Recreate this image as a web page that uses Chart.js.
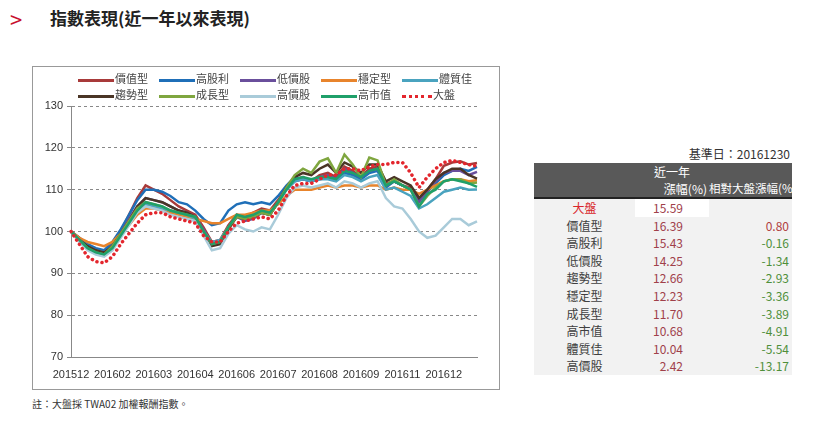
<!DOCTYPE html>
<html><head><meta charset="utf-8">
<script src="https://cdn.jsdelivr.net/npm/chart.js@4"></script>
<style>
body{margin:0;width:820px;height:422px;background:#fff;font-family:"Noto Sans CJK TC","Noto Sans",sans-serif;position:relative;overflow:hidden}
#title{position:absolute;left:50px;top:5px;font-size:17px;font-weight:bold;color:#222}
#chev{position:absolute;left:10px;top:2px;font-size:22px;color:#c8102e}
#box{position:absolute;left:32px;top:66px;width:466px;height:322px;border:1px solid #999}
#cv{position:absolute;left:0;top:0}
#legend{position:absolute;left:45px;top:4px;width:420px;font-size:11px;color:#444}
.li{position:absolute;white-space:nowrap;line-height:14px}
.sw{display:inline-block;width:36px;height:3px;vertical-align:middle;margin-right:1px}
#note{position:absolute;left:32px;top:396px;font-size:10px;color:#333}
#base{position:absolute;left:600px;top:145px;width:190px;text-align:right;font-size:12px;color:#333}
table{position:absolute;left:534px;top:163px;width:258px;border-collapse:collapse;font-size:12px;table-layout:fixed;white-space:nowrap}
th{background:#595959;color:#fff;font-weight:normal;padding:0;height:17px;line-height:17px}
td{background:#f2f2f2;height:17.6px;padding:0;line-height:17.6px}
td.n{text-align:center;color:#404040}
td.v{text-align:right;color:#a0404a;padding-right:26px}
td.r{text-align:right;padding-right:3px}
</style></head><body>
<div id="chev">&gt;</div>
<div id="title">指數表現(近一年以來表現)</div>
<div id="box"><canvas id="cv" width="466" height="322"></canvas><div id="legend"></div></div>
<div id="note">註：大盤採 TWA02 加權報酬指數。</div>
<div id="base">基準日：20161230</div>
<table id="tb"><colgroup><col style="width:101px"><col style="width:74px"><col style="width:83px"></colgroup></table>
<script>
const tickLabels=['201512','201602','201603','201604','201606','201607','201608','201609','201611','201612'];
const value=[100,98.5,96.5,95.5,95,97,100,104,108,111,110,109,107.5,106,105,104,101,97.5,98,101.5,104,103.5,104.5,105.5,105,107.5,110.5,112.5,113,112,113.5,114,113,115.5,114.5,113,115,115.5,111.5,112,111,110.5,108,110,112.5,115.7,116.5,116.8,116,116.39];
const highDiv=[100,98.5,97,96,95.5,97.5,100.5,104,107.5,110,110,109.5,108.5,107,106.5,105,103,101.5,102,105,106.5,107,106.5,107,106.5,108.5,111,113,112.5,112,112.5,113,112.5,114,113.5,112.5,114,114.5,110.5,112,111,110,107.5,109.5,111.5,113.5,114.5,115,114.5,115.43];
const lowPrice=[100,98,96,95,94.5,96.5,99.5,103,106,108,107.5,107,106,105,104.5,103.5,100.5,97,97.5,101,103.5,102.5,103,104.5,104,107,110,112,112.5,112,113,113.5,112.5,115,114,113,114.5,115,111,112,111,110,107,109.5,112,114,114.5,114.5,113.5,114.25];
const stable=[100,98.5,97.5,97,96.5,97.5,99.5,101.5,104,105.5,105.5,105,104.5,104,103.5,103,102.5,102,102,103,104,104,104.5,105,105,106.5,108.5,110,110,110,110.5,111,110.5,111,111,110.5,111,111,110,110.5,110,110,109,110,111,112,112.5,112.5,112,112.23];
const quality=[100,98,96.5,95.5,95,96.5,99,102,105,106.5,106,105.5,105,104.5,104,103,100,97.5,98,101,103.5,103,103.5,104.5,104,107,110,112,112.5,112,112.5,112.5,112,113.5,113,112,113,113.5,110,110.5,109.5,108.5,105.5,106.5,108,109.5,110,110.5,110,110.04];
const trend=[100,98,96.5,95.5,95,96.5,99.5,102.5,106,108,107.5,107,106,105,104.5,103.5,100,96.5,97,100.5,103.5,103,103.5,104.5,104,107,110.5,113,114,113.5,115,116,114,116.5,115.5,114,116,116,112,113,112,111,108,110,112.5,114,115,115,113.5,112.66];
const growth=[100,98,96,95,94.5,96.5,99.5,102.5,105.5,107,106.5,106,105,104.5,104,103.5,100,97,97.5,101,103.5,103,103.5,104.5,104,107,110.5,113.5,115,114,116.7,117.5,114,118.4,116,113,117.7,117,111,112.5,111,110,106,108.5,110.5,112,112.5,112.5,111.5,111.7];
const highPrice=[100,97.5,95.5,94.5,94,95.5,98.5,101.5,104.5,106,105.5,105,104,103.5,103,102.5,99,95.5,96,99.5,101.5,100.5,100,101,100.5,104,108,110.5,111,110.5,111,111.5,110.5,112,111.5,110.5,111.5,112,108,106,105.5,103,100,98.5,99,101,103,103,101.5,102.42];
const bigCap=[100,98,96,95,94.5,96,99,102,105,107,106.5,106,105,104.5,104,103.5,100,97,97.5,101,104,103.5,104,105,104.5,107,110,112.5,113,112.5,113,113,112.5,114.5,114,113,114.5,115,111,112,111,110,106,109,110,112,112.5,112,111.5,110.68];
const market=[100,97,94,92.8,92.5,94,97,99.5,102,104,104.5,104.5,103.5,103,102.5,102,99,97.5,97.5,100,102,102.5,103,103.5,103,105,108.5,111,111.5,111.5,112.5,113.5,113.5,115,115,114.5,115.5,116,116,116.5,116.5,114,110.5,113,115,116.5,117,116.5,116,115.59];
const tableNames=['大盤','價值型','高股利','低價股','趨勢型','穩定型','成長型','高市值','體質佳','高價股'];
const tableRet=['15.59','16.39','15.43','14.25','12.66','12.23','11.70','10.68','10.04','2.42'];
const tableRel=['','0.80','-0.16','-1.34','-2.93','-3.36','-3.89','-4.91','-5.54','-13.17'];

const labels=value.map((_,i)=>i%5===0?tickLabels[i/5]:'');
const series=[
 ['價值型',value,'#a83a3a'],['高股利',highDiv,'#1f6fb8'],['低價股',lowPrice,'#6a4f9c'],['穩定型',stable,'#e8842c'],['體質佳',quality,'#4aa3bf'],
 ['趨勢型',trend,'#4a3526'],['成長型',growth,'#7fa63f'],['高價股',highPrice,'#a9cbd9'],['高市值',bigCap,'#1fa06a'],['大盤',market,'#e3262d']];
const ds=series.map(([n,d,c],k)=>({label:n,data:d,borderColor:c,backgroundColor:c,borderWidth:n==='大盤'?3.5:2.5,
  borderDash:n==='大盤'?[0.1,5]:[],borderCapStyle:n==='大盤'?'round':'butt',pointRadius:0,tension:0,order:n==='大盤'?0:10-k}));
const lg=document.getElementById('legend');
series.forEach(([n,d,c],k)=>{const e=document.createElement('div');e.className='li';
 e.style.left=(k%5)*81+'px';e.style.top=(k<5?0:16)+'px';
 const sw=n==='大盤'?`<span class="sw" style="height:0;border-top:3.5px dotted ${c};width:30px"></span>`:`<span class="sw" style="background:${c}"></span>`;
 e.innerHTML=sw+n;lg.appendChild(e);});
new Chart(document.getElementById('cv'),{type:'line',data:{labels,datasets:ds},
options:{responsive:false,animation:false,layout:{padding:{left:0,top:39,right:22,bottom:0}},
plugins:{legend:{display:false},tooltip:{enabled:false}},
scales:{x:{grid:{display:false},border:{color:'#888'},ticks:{autoSkip:false,maxRotation:0,color:'#333',font:{size:11}},afterFit(s){s.height=32}},
y:{min:70,max:130,ticks:{stepSize:10,color:'#333',font:{size:11},padding:4},afterFit(s){s.width=38},
 border:{color:'#888',dash:[3,3]},grid:{color:c=>c.tick.value===70?'rgba(0,0,0,0)':'#888',drawTicks:true,tickLength:4,tickColor:'#888'}}}}});
const tb=document.getElementById('tb');
let h='<tr><th></th><th style="text-align:center">近一年</th><th></th></tr><tr><th style="border-bottom:2px solid #222"></th><th style="border-bottom:2px solid #222;text-align:right;padding-right:2px">漲幅(%)</th><th style="border-bottom:2px solid #222;text-align:right;padding-right:1px;font-size:11.5px">相對大盤漲幅(%)</th></tr>';
tableNames.forEach((n,i)=>{const rel=tableRel[i];const col=rel.startsWith('-')?'#4e8f3a':'#b04040';
 h+=`<tr><td class="n" style="${i===0?'color:#d9262b':''}">${n}</td><td class="v" style="${i===0?'background:#fff':''}">${tableRet[i]}</td><td class="r" style="color:${col}">${rel}</td></tr>`;});
tb.insertAdjacentHTML('beforeend',h);
</script></body></html>
